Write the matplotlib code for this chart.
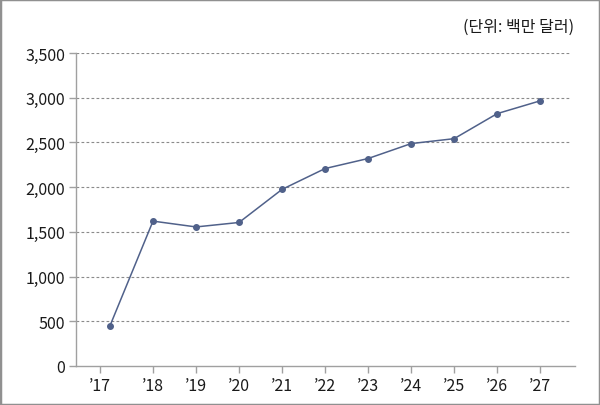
import matplotlib
matplotlib.use("Agg")
import matplotlib.pyplot as plt
from matplotlib.patches import Rectangle

plt.rcParams['font.family'] = ['Noto Sans CJK KR', 'DejaVu Sans']

years = ["’17", "’18", "’19", "’20", "’21", "’22", "’23", "’24", "’25", "’26", "’27"]
values = [450, 1620, 1555, 1605, 1975, 2208, 2320, 2487, 2542, 2822, 2965]
yticks = [0, 500, 1000, 1500, 2000, 2500, 3000, 3500]
ytick_labels = ["0", "500", "1,000", "1,500", "2,000", "2,500", "3,000", "3,500"]
unit_label = "(단위: 백만 달러)"

fig = plt.figure(figsize=(6.0, 4.06), dpi=100)
ax = fig.add_axes([76/600, (406-367)/406, 499/600, (367-54)/406])

xs = list(range(len(years)))
line_color = "#50618a"
ax.plot(xs, values, color=line_color, lw=1.1, marker="o", ms=4.0, zorder=3)

ax.set_xlim(-0.79, 10.81)
ax.set_ylim(0, 3500)

for v in yticks[1:]:
    ax.axhline(v, xmin=0, xmax=0.992, color="#8a8a8a", lw=0.8, ls=(0, (2.5, 2)), zorder=1)

tick_pos = [-0.23] + xs[1:]
ax.set_xticks(tick_pos)
ax.set_xticklabels(years)
ax.set_yticks(yticks)
ax.set_yticklabels(ytick_labels)

for s in ["top", "right"]:
    ax.spines[s].set_visible(False)
for s in ["left", "bottom"]:
    ax.spines[s].set_color("#a0a0a0")
    ax.spines[s].set_linewidth(1.0)

ax.tick_params(axis="both", colors="#a0a0a0", labelcolor="#1a1a1a", labelsize=11.5, length=5, width=1.0)
ax.tick_params(axis="x", pad=3)
ax.tick_params(axis="y", pad=3)

fig.text(574/600, 1 - 27/406, unit_label, ha="right", va="center", fontsize=11.5, color="#1a1a1a")

fig.patches.append(Rectangle((0, 0), 1, 1, transform=fig.transFigure, fill=False,
                             edgecolor="#909090", lw=2.5, zorder=10))

fig.savefig("out.png", dpi=100)
